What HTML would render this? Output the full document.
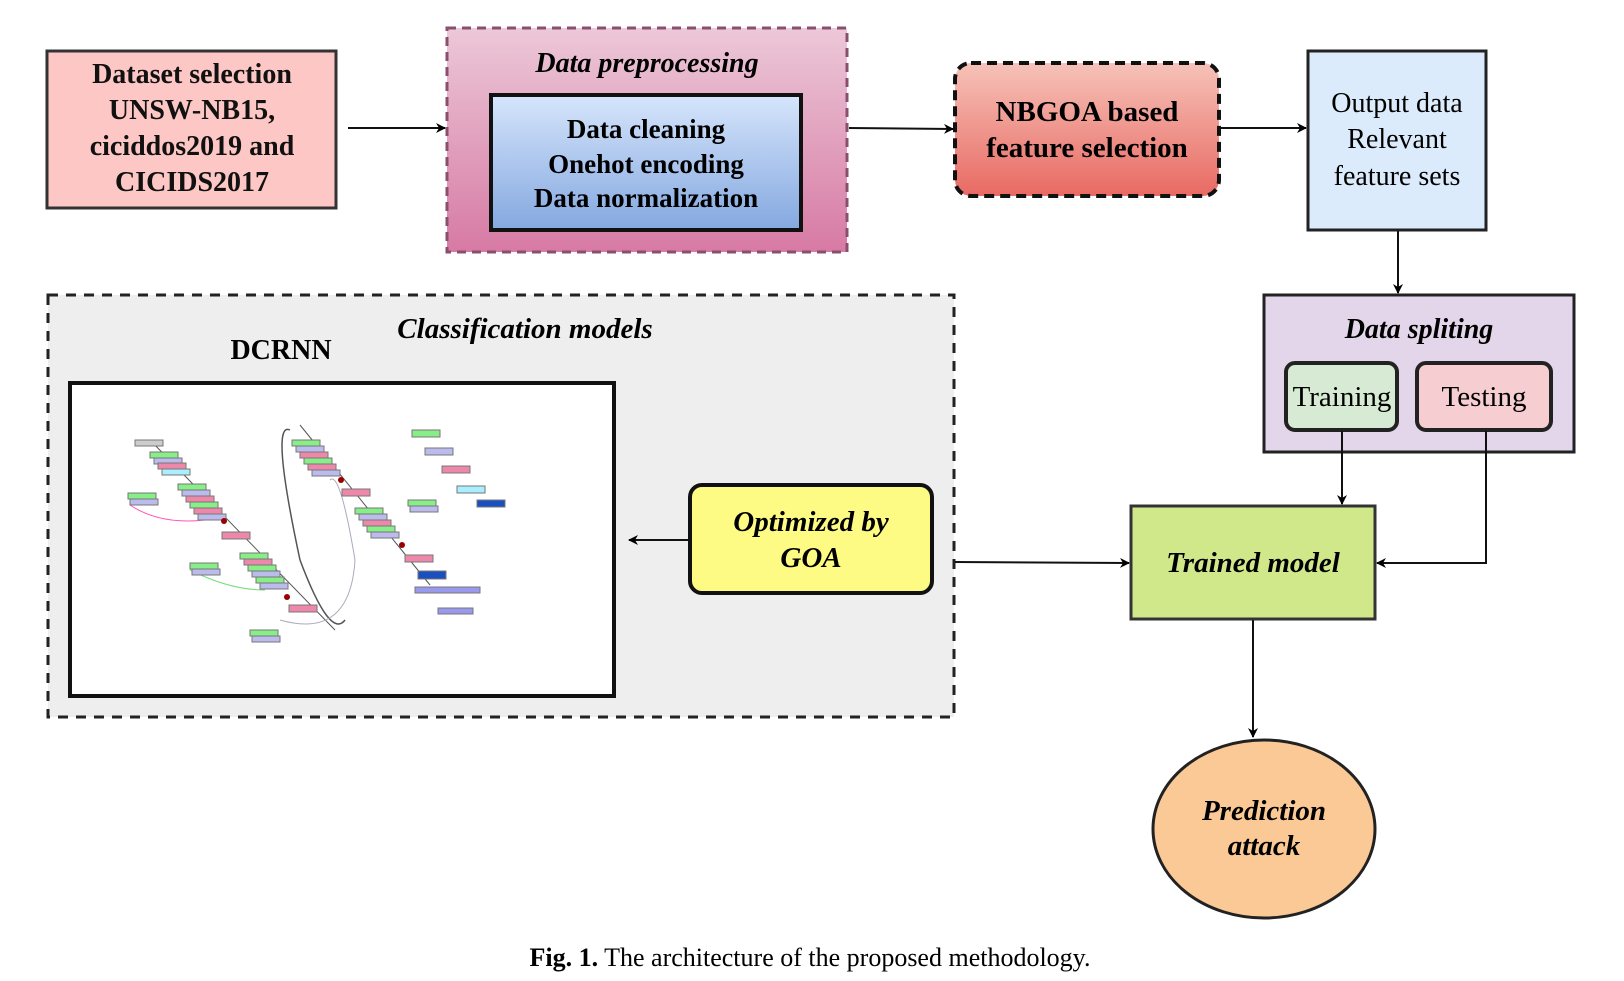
<!DOCTYPE html>
<html><head><meta charset="utf-8"><style>
html,body{margin:0;padding:0;background:#fff;}
svg{display:block;}
text{font-family:"Liberation Serif",serif;}
</style></head><body>
<svg width="1624" height="981" viewBox="0 0 1624 981" xmlns="http://www.w3.org/2000/svg">
<defs>
<linearGradient id="gp" x1="0" y1="0" x2="0" y2="1"><stop offset="0" stop-color="#ecc8d8"/><stop offset="1" stop-color="#d77aa4"/></linearGradient>
<linearGradient id="gb" x1="0" y1="0" x2="0" y2="1"><stop offset="0" stop-color="#d6e5fb"/><stop offset="1" stop-color="#84a8e0"/></linearGradient>
<linearGradient id="gr" x1="0" y1="0" x2="0" y2="1"><stop offset="0" stop-color="#f6c2b8"/><stop offset="1" stop-color="#e86a63"/></linearGradient>
<marker id="ar" markerWidth="10" markerHeight="10" refX="9" refY="5" orient="auto" markerUnits="userSpaceOnUse"><path d="M0,0 L10,5 L0,10 L3,5z" fill="#000"/></marker>
</defs>

<!-- Dataset -->
<rect x="47" y="51" width="289" height="157" fill="#fcc7c4" stroke="#333" stroke-width="3"/>
<g font-weight="bold" font-size="28" text-anchor="middle" fill="#111">
<text x="192" y="83">Dataset selection</text>
<text x="192" y="119">UNSW-NB15,</text>
<text x="192" y="155">ciciddos2019 and</text>
<text x="192" y="191">CICIDS2017</text>
</g>

<!-- Preprocessing -->
<rect x="447" y="28" width="400" height="224" fill="url(#gp)" stroke="#8a4f70" stroke-width="3" stroke-dasharray="9,6"/>
<text x="647" y="72" font-size="28" font-weight="bold" font-style="italic" text-anchor="middle">Data preprocessing</text>
<rect x="491" y="95" width="310" height="135" fill="url(#gb)" stroke="#111" stroke-width="4"/>
<g font-weight="bold" font-size="27" text-anchor="middle">
<text x="646" y="138">Data cleaning</text>
<text x="646" y="173">Onehot encoding</text>
<text x="646" y="207">Data normalization</text>
</g>

<!-- NBGOA -->
<rect x="955" y="63" width="264" height="133" rx="16" fill="url(#gr)" stroke="#111" stroke-width="4" stroke-dasharray="10,6"/>
<g font-weight="bold" font-size="29" text-anchor="middle">
<text x="1087" y="121">NBGOA based</text>
<text x="1087" y="157">feature selection</text>
</g>

<!-- Output -->
<rect x="1308" y="51" width="178" height="179" fill="#dcebfb" stroke="#222" stroke-width="3"/>
<g font-size="28" text-anchor="middle">
<text x="1397" y="112">Output data</text>
<text x="1397" y="148">Relevant</text>
<text x="1397" y="185">feature sets</text>
</g>

<!-- arrows top -->
<line x1="348" y1="128" x2="445" y2="128" stroke="#111" stroke-width="2" marker-end="url(#ar)"/>
<line x1="849" y1="128" x2="953" y2="129" stroke="#111" stroke-width="2" marker-end="url(#ar)"/>
<line x1="1221" y1="128" x2="1306" y2="128" stroke="#111" stroke-width="2" marker-end="url(#ar)"/>
<line x1="1398" y1="231" x2="1398" y2="293" stroke="#111" stroke-width="2" marker-end="url(#ar)"/>

<!-- Data spliting -->
<rect x="1264" y="295" width="310" height="157" fill="#e3d6ea" stroke="#222" stroke-width="3"/>
<text x="1419" y="338" font-size="28" font-weight="bold" font-style="italic" text-anchor="middle">Data spliting</text>
<rect x="1286" y="363" width="111" height="67" rx="9" fill="#d7ebd4" stroke="#222" stroke-width="4"/>
<text x="1342" y="406" font-size="29" text-anchor="middle">Training</text>
<rect x="1417" y="363" width="134" height="67" rx="9" fill="#f6cdd0" stroke="#222" stroke-width="4"/>
<text x="1484" y="406" font-size="29" text-anchor="middle">Testing</text>

<!-- Classification -->
<rect x="48" y="295" width="906" height="422" fill="#eeeeee" stroke="#222" stroke-width="3" stroke-dasharray="10,8"/>
<text x="525" y="338" font-size="29" font-weight="bold" font-style="italic" text-anchor="middle">Classification models</text>
<text x="281" y="359" font-size="28" font-weight="bold" text-anchor="middle">DCRNN</text>
<rect x="70" y="383" width="544" height="313" fill="#fff" stroke="#111" stroke-width="4"/>
<!-- mini network diagram -->
<g stroke-width="1">
<path d="M150,440 L335,630" stroke="#555" fill="none"/>
<path d="M290,430 Q270,420 300,560 Q330,640 345,620" stroke="#555" fill="none" stroke-width="1.5"/>
<path d="M300,425 L430,585" stroke="#555" fill="none"/>
<path d="M330,480 Q340,470 355,560 Q350,640 280,620" stroke="#aab" fill="none"/>
<path d="M130,505 Q160,525 205,520" stroke="#f5b" fill="none"/>
<path d="M190,570 Q230,590 265,590" stroke="#7d7" fill="none"/>
<g stroke="#777">
<rect x="135" y="440" width="28" height="6" fill="#ccc"/>
<rect x="150" y="452" width="28" height="6" fill="#8e8"/><rect x="154" y="458" width="28" height="6" fill="#bbe"/><rect x="158" y="463" width="28" height="6" fill="#e8a"/><rect x="162" y="469" width="28" height="6" fill="#aef"/>
<rect x="128" y="493" width="28" height="6" fill="#8e8"/><rect x="130" y="499" width="28" height="6" fill="#bbe"/>
<rect x="178" y="484" width="28" height="6" fill="#8e8"/><rect x="182" y="490" width="28" height="6" fill="#bbe"/><rect x="186" y="496" width="28" height="6" fill="#e8a"/><rect x="190" y="502" width="28" height="6" fill="#8e8"/><rect x="194" y="508" width="28" height="6" fill="#e8a"/><rect x="198" y="514" width="28" height="6" fill="#bbe"/>
<rect x="222" y="532" width="28" height="7" fill="#e8a"/>
<rect x="190" y="563" width="28" height="6" fill="#8e8"/><rect x="192" y="569" width="28" height="6" fill="#bbe"/>
<rect x="240" y="553" width="28" height="6" fill="#8e8"/><rect x="244" y="559" width="28" height="6" fill="#e8a"/><rect x="248" y="565" width="28" height="6" fill="#8e8"/><rect x="252" y="571" width="28" height="6" fill="#bbe"/><rect x="256" y="577" width="28" height="6" fill="#8e8"/><rect x="260" y="583" width="28" height="6" fill="#bbe"/>
<rect x="289" y="605" width="28" height="7" fill="#e8a"/>
<rect x="250" y="630" width="28" height="6" fill="#8e8"/><rect x="252" y="636" width="28" height="6" fill="#bbe"/>
<rect x="292" y="440" width="28" height="6" fill="#8e8"/><rect x="296" y="446" width="28" height="6" fill="#bbe"/><rect x="300" y="452" width="28" height="6" fill="#e8a"/><rect x="304" y="458" width="28" height="6" fill="#8e8"/><rect x="308" y="464" width="28" height="6" fill="#e8a"/><rect x="312" y="470" width="28" height="6" fill="#bbe"/>
<rect x="342" y="489" width="28" height="7" fill="#e8a"/>
<rect x="355" y="508" width="28" height="6" fill="#8e8"/><rect x="359" y="514" width="28" height="6" fill="#bbe"/><rect x="363" y="520" width="28" height="6" fill="#e8a"/><rect x="367" y="526" width="28" height="6" fill="#8e8"/><rect x="371" y="532" width="28" height="6" fill="#bbe"/>
<rect x="408" y="500" width="28" height="6" fill="#8e8"/><rect x="410" y="506" width="28" height="6" fill="#bbe"/>
<rect x="405" y="555" width="28" height="7" fill="#e8a"/>
<rect x="418" y="571" width="28" height="8" fill="#1a4fc0"/>
<rect x="415" y="587" width="65" height="6" fill="#99e"/>
<rect x="438" y="608" width="35" height="6" fill="#99e"/>
<rect x="412" y="430" width="28" height="7" fill="#8e8"/><rect x="425" y="448" width="28" height="7" fill="#bbe"/><rect x="442" y="466" width="28" height="7" fill="#e8a"/><rect x="457" y="486" width="28" height="7" fill="#aef"/><rect x="477" y="500" width="28" height="7" fill="#1a4fc0"/>
</g>
<g fill="#900"><circle cx="224" cy="521" r="3"/><circle cx="287" cy="597" r="3"/><circle cx="341" cy="480" r="3"/><circle cx="402" cy="545" r="3"/></g>
</g>

<!-- GOA -->
<rect x="690" y="485" width="242" height="108" rx="12" fill="#fdfb83" stroke="#111" stroke-width="4"/>
<g font-weight="bold" font-style="italic" font-size="29" text-anchor="middle">
<text x="811" y="531">Optimized by</text>
<text x="811" y="567">GOA</text>
</g>
<line x1="689" y1="540" x2="629" y2="540" stroke="#111" stroke-width="2" marker-end="url(#ar)"/>
<line x1="955" y1="562" x2="1129" y2="563" stroke="#111" stroke-width="2" marker-end="url(#ar)"/>

<!-- Trained model -->
<rect x="1131" y="506" width="244" height="113" fill="#d1e88a" stroke="#333" stroke-width="3"/>
<text x="1253" y="572" font-size="29" font-weight="bold" font-style="italic" text-anchor="middle">Trained model</text>
<line x1="1342" y1="431" x2="1342" y2="504" stroke="#111" stroke-width="2" marker-end="url(#ar)"/>
<polyline points="1486,431 1486,563 1377,563" fill="none" stroke="#111" stroke-width="2" marker-end="url(#ar)"/>
<line x1="1253" y1="620" x2="1253" y2="737" stroke="#111" stroke-width="2" marker-end="url(#ar)"/>

<!-- Prediction -->
<ellipse cx="1264" cy="829" rx="111" ry="89" fill="#fbc996" stroke="#222" stroke-width="3"/>
<g font-weight="bold" font-style="italic" font-size="29" text-anchor="middle">
<text x="1264" y="820">Prediction</text>
<text x="1264" y="855">attack</text>
</g>

<!-- Caption -->
<text x="810" y="966" font-size="26" text-anchor="middle"><tspan font-weight="bold">Fig. 1.</tspan>  The architecture of the proposed methodology.</text>
</svg>
</body></html>
